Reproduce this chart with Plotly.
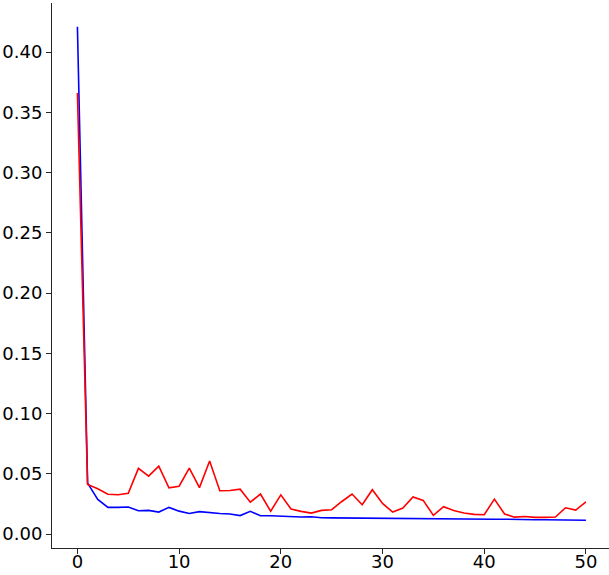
import plotly.graph_objects as go

epochs = list(range(51))

blue_values = [
    0.421, 0.0423, 0.0287, 0.0221, 0.0221, 0.0224, 0.0193, 0.0196, 0.0182, 0.0221,
    0.0190, 0.0170, 0.0186, 0.0176, 0.0170, 0.0166, 0.0153, 0.0188, 0.0152, 0.0152,
    0.0147, 0.0142, 0.0141, 0.0143, 0.0135, 0.0134, 0.0133, 0.0132, 0.0131, 0.0133,
    0.0129, 0.0127, 0.0128, 0.0125, 0.0127, 0.0127, 0.0127, 0.0126, 0.0124, 0.0122,
    0.0121, 0.0122, 0.0123, 0.0120, 0.0121, 0.0119, 0.0118, 0.0117, 0.0116, 0.0114,
    0.0114,
]

red_values = [
    0.366, 0.0412, 0.0376, 0.0330, 0.0326, 0.0338, 0.0545, 0.0480, 0.0563, 0.0383,
    0.0397, 0.0547, 0.0385, 0.0606, 0.0359, 0.0361, 0.0372, 0.0264, 0.0332, 0.0189,
    0.0325, 0.0207, 0.0188, 0.0174, 0.0196, 0.0202, 0.0270, 0.0332, 0.0243, 0.0368,
    0.0254, 0.0182, 0.0216, 0.0307, 0.0279, 0.0155, 0.0227, 0.0195, 0.0175, 0.0163,
    0.0160, 0.0290, 0.0166, 0.0140, 0.0146, 0.0138, 0.0138, 0.0141, 0.0218, 0.0199,
    0.0266,
]

x_tick_values = [0, 10, 20, 30, 40, 50]
y_tick_values = [0.00, 0.05, 0.10, 0.15, 0.20, 0.25, 0.30, 0.35, 0.40]
y_tick_labels = ["0.00", "0.05", "0.10", "0.15", "0.20", "0.25", "0.30", "0.35", "0.40"]

fig = go.Figure()
fig.add_trace(go.Scatter(x=epochs, y=blue_values, mode="lines",
                         line=dict(color="#0000ff", width=1.6), showlegend=False))
fig.add_trace(go.Scatter(x=epochs, y=red_values, mode="lines",
                         line=dict(color="#ff0000", width=1.6), showlegend=False))

axis_font = dict(family="DejaVu Sans", size=18, color="#000000")

fig.update_layout(
    width=609, height=575,
    margin=dict(l=52, r=0, t=3, b=27, pad=0),
    paper_bgcolor="white", plot_bgcolor="white",
    font=axis_font,
    xaxis=dict(
        range=[-2.5, 52.27], tickvals=x_tick_values, automargin=False,
        showgrid=False, zeroline=False, showline=True, linecolor="#262626", linewidth=1,
        ticks="outside", ticklen=5, tickwidth=1, tickcolor="#262626",
        tickfont=axis_font, ticklabelstandoff=-8,
    ),
    yaxis=dict(
        range=[-0.0116, 0.4407], tickvals=y_tick_values, ticktext=y_tick_labels,
        automargin=False,
        showgrid=False, zeroline=False, showline=True, linecolor="#262626", linewidth=1,
        ticks="outside", ticklen=5, tickwidth=1, tickcolor="#262626",
        tickfont=axis_font,
    ),
)

fig.write_html(
    "out.html",
    config={"displayModeBar": False},
    post_script="document.body.style.margin='0px';document.body.style.overflow='hidden';",
)
